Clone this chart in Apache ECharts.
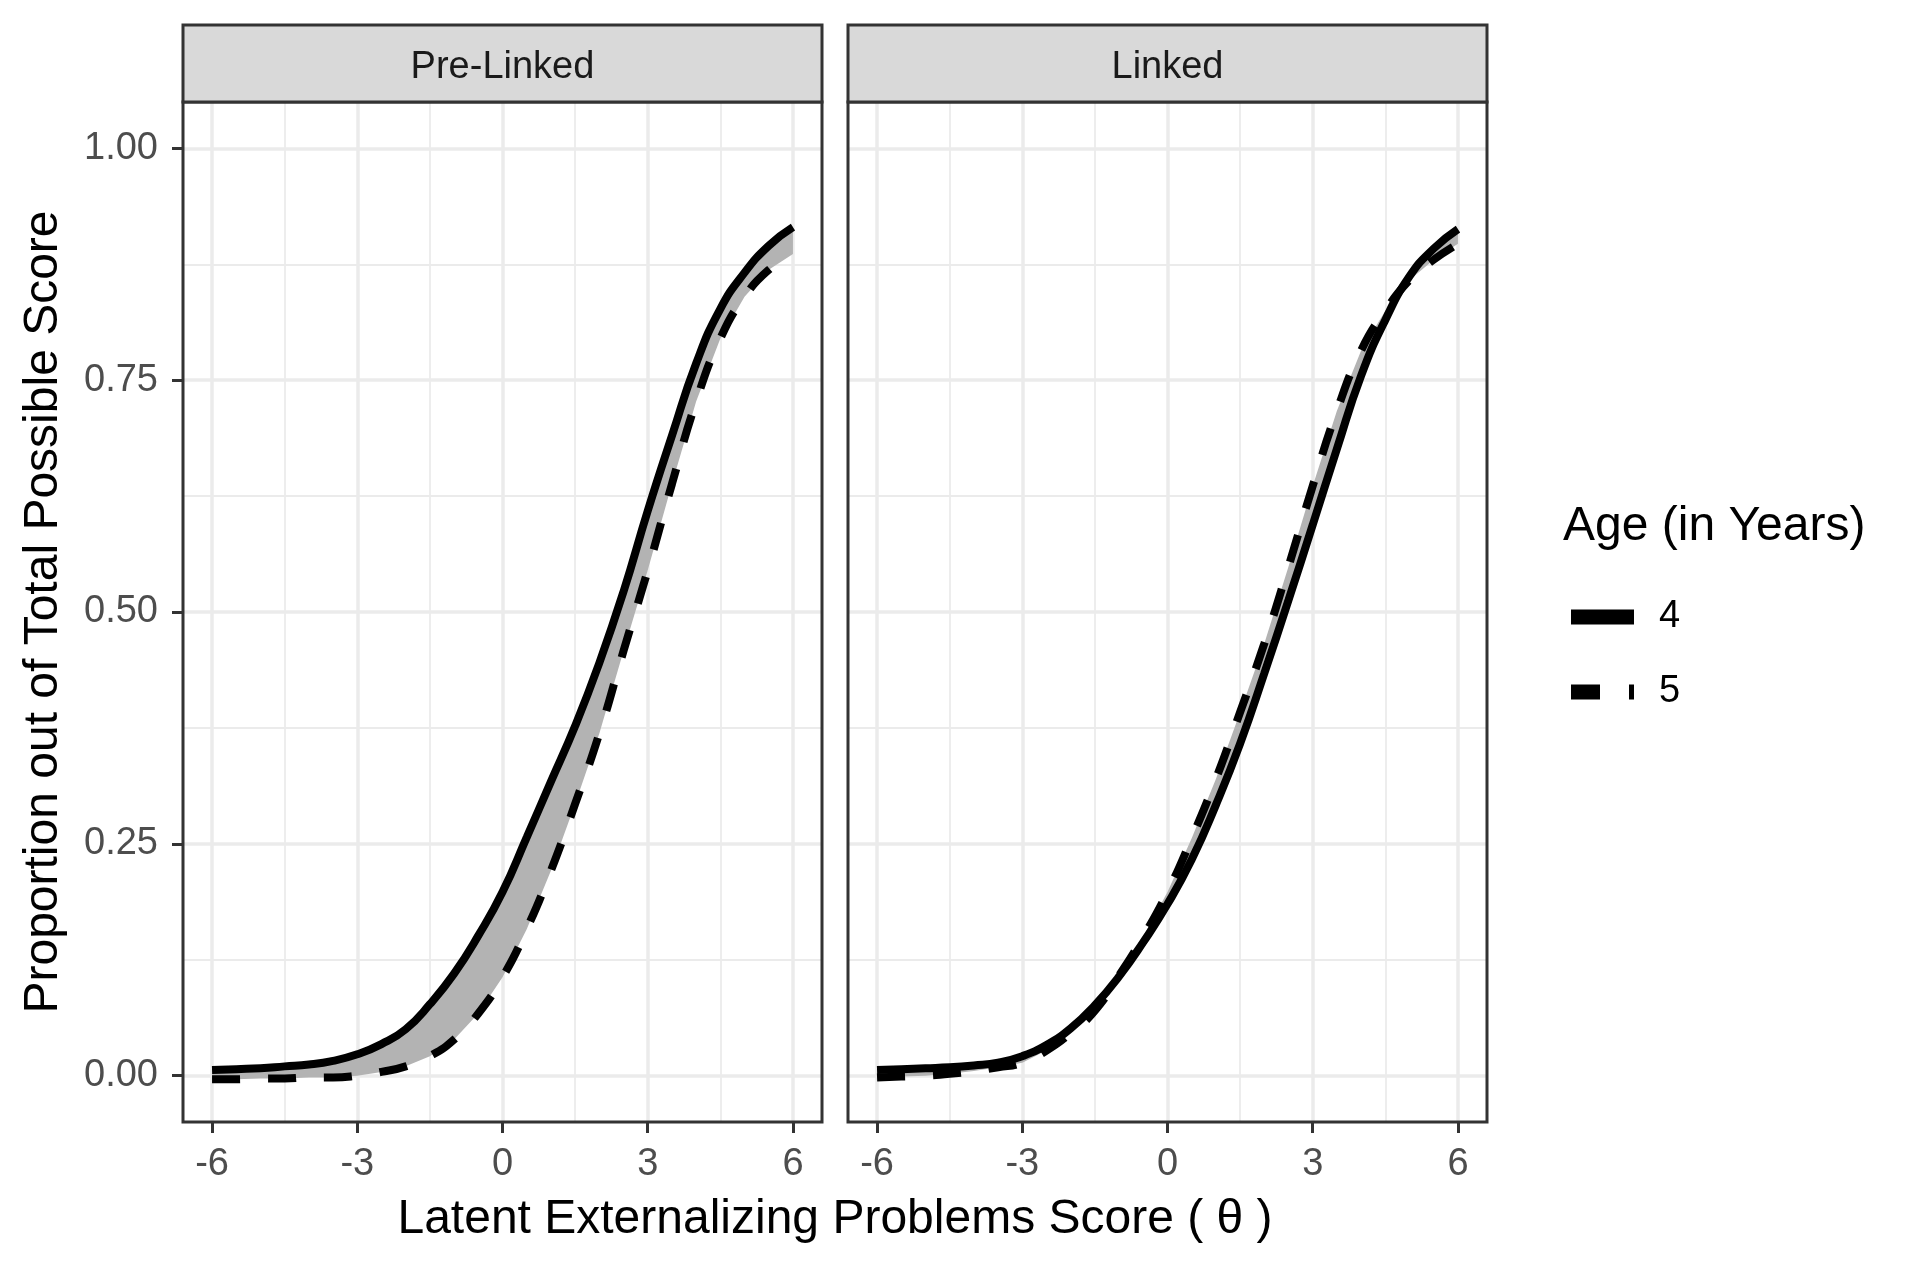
<!DOCTYPE html>
<html>
<head>
<meta charset="utf-8">
<script src="https://cdn.jsdelivr.net/npm/echarts@6/dist/echarts.min.js"></script>
<style>
html, body { margin: 0; padding: 0; background: #fff; }
#chart { width: 1920px; height: 1280px; }
</style>
</head>
<body>
<div id="chart"></div>
<script>
// latent score grid
var theta = [-6, -5.5, -5, -4.5, -4, -3.5, -3, -2.5, -2, -1.5, -1, -0.5, 0, 0.5, 1, 1.5, 2, 2.5, 3, 3.5, 4, 4.5, 5, 5.5, 6];
// Pre-Linked panel
var preAge4 = [0.006, 0.007, 0.008, 0.010, 0.012, 0.016, 0.023, 0.034, 0.050, 0.077, 0.110, 0.151, 0.198, 0.257, 0.317, 0.377, 0.445, 0.522, 0.609, 0.690, 0.768, 0.827, 0.866, 0.895, 0.915];
var preAge5 = [-0.004, -0.004, -0.003, -0.003, -0.002, -0.002, 0.000, 0.004, 0.010, 0.021, 0.039, 0.067, 0.106, 0.158, 0.221, 0.293, 0.369, 0.458, 0.545, 0.638, 0.727, 0.795, 0.840, 0.869, 0.886];
// Linked panel
var linkAge4 = [0.006, 0.007, 0.008, 0.009, 0.011, 0.014, 0.021, 0.033, 0.051, 0.076, 0.107, 0.144, 0.185, 0.233, 0.292, 0.358, 0.434, 0.513, 0.594, 0.676, 0.755, 0.815, 0.862, 0.892, 0.913];
var linkAge5 = [-0.002, -0.001, 0.000, 0.002, 0.005, 0.009, 0.014, 0.027, 0.046, 0.070, 0.108, 0.150, 0.198, 0.256, 0.320, 0.392, 0.466, 0.549, 0.636, 0.717, 0.782, 0.825, 0.858, 0.880, 0.897];

var panels = ['Pre-Linked', 'Linked'];
var ages = ['4', '5'];
var xMajor = [-6, -3, 0, 3, 6];
var xMinor = [-4.5, -1.5, 1.5, 4.5];
var yMajor = [0, 0.25, 0.5, 0.75, 1];
var yMinor = [0.125, 0.375, 0.625, 0.875];

var FONT = 'Liberation Sans, Arial, sans-serif';
var panelLeft = [183, 848];
var panelTop = 102, panelW = 639, panelH = 1020;
var SMOOTH = 0.5;

function pairs(vals) {
    return theta.map(function (t, i) { return [t, vals[i]]; });
}

var chart = echarts.init(document.getElementById('chart'));

var grids = [], xAxes = [], yAxes = [], series = [], graphics = [];
var curves = [[preAge4, preAge5], [linkAge4, linkAge5]];

panels.forEach(function (name, p) {
    grids.push({ left: panelLeft[p], top: panelTop, width: panelW, height: panelH, show: true, backgroundColor: '#fff', borderWidth: 0 });
    // major x
    xAxes.push({
        gridIndex: p, type: 'value', min: -6.6, max: 6.6,
        axisLine: { show: false, onZero: false },
        axisTick: { show: true, length: 11, lineStyle: { color: '#333333', width: 3 }, customValues: xMajor },
        axisLabel: { customValues: xMajor, fontSize: 38, color: '#4D4D4D', fontFamily: FONT, margin: 24 },
        splitLine: { show: true, lineStyle: { color: '#EBEBEB', width: 3.5 } }
    });
    // minor x
    xAxes.push({
        gridIndex: p, type: 'value', min: -6.6, max: 6.6,
        axisLine: { show: false, onZero: false },
        axisTick: { show: false, customValues: xMinor },
        axisLabel: { show: false },
        splitLine: { show: true, lineStyle: { color: '#EBEBEB', width: 1.8 } }
    });
    // major y
    yAxes.push({
        gridIndex: p, type: 'value', min: -0.05, max: 1.05, position: 'left',
        axisLine: { show: false, onZero: false },
        axisTick: { show: p === 0, length: 11, lineStyle: { color: '#333333', width: 3 }, customValues: yMajor },
        axisLabel: {
            show: p === 0, customValues: yMajor, fontSize: 38, color: '#4D4D4D', fontFamily: FONT, margin: 25,
            formatter: function (v) { return v.toFixed(2); }
        },
        splitLine: { show: true, lineStyle: { color: '#EBEBEB', width: 3.5 } }
    });
    // minor y
    yAxes.push({
        gridIndex: p, type: 'value', min: -0.05, max: 1.05, position: 'left',
        axisLine: { show: false, onZero: false },
        axisTick: { show: false, customValues: yMinor },
        axisLabel: { show: false },
        splitLine: { show: true, lineStyle: { color: '#EBEBEB', width: 1.8 } }
    });

    var a4 = curves[p][0], a5 = curves[p][1];
    var xi = p * 2, yi = p * 2;
    // grey band between the two age curves
    series.push({
        name: 'band-' + p, type: 'custom', xAxisIndex: xi, yAxisIndex: yi, silent: true, z: 2,
        data: theta.map(function (t, i) { return [t, a4[i], a5[i]]; }),
        encode: { x: 0, y: [1, 2] },
        renderItem: function (params, api) {
            if (params.dataIndex !== 0) return null;
            var pts = [], i;
            for (i = 0; i < theta.length; i++) pts.push(api.coord([theta[i], a4[i]]));
            for (i = theta.length - 1; i >= 0; i--) pts.push(api.coord([theta[i], a5[i]]));
            return { type: 'polygon', shape: { points: pts }, style: { fill: '#B3B3B3' } };
        }
    });
    series.push({
        name: ages[0], type: 'line', xAxisIndex: xi, yAxisIndex: yi,
        data: pairs(a4), symbol: 'none', smooth: SMOOTH,
        lineStyle: { color: '#000', width: 8, type: 'solid' }, itemStyle: { color: '#000' }, z: 3
    });
    series.push({
        name: ages[1], type: 'line', xAxisIndex: xi, yAxisIndex: yi,
        data: pairs(a5), symbol: 'none', smooth: SMOOTH,
        lineStyle: { color: '#000', width: 8, type: [28, 28] }, itemStyle: { color: '#000' }, z: 3
    });

    // panel border and strip
    graphics.push({
        type: 'rect', z: 100,
        shape: { x: panelLeft[p], y: panelTop, width: panelW, height: panelH },
        style: { fill: 'none', stroke: '#333333', lineWidth: 3 }
    });
    graphics.push({
        type: 'rect', z: 100,
        shape: { x: panelLeft[p], y: 25, width: panelW, height: panelTop - 25 },
        style: { fill: '#D9D9D9', stroke: '#333333', lineWidth: 3 }
    });
    graphics.push({
        type: 'text', z: 101, x: panelLeft[p] + panelW / 2, y: 68,
        style: { text: name, fontSize: 38, fontFamily: FONT, fill: '#1A1A1A', align: 'center', verticalAlign: 'middle' }
    });
});

// axis titles
graphics.push({
    type: 'text', z: 101, x: 835, y: 1220,
    style: { text: 'Latent Externalizing Problems Score ( \u03B8 )', fontSize: 48, fontFamily: FONT, fill: '#000', align: 'center', verticalAlign: 'middle' }
});
graphics.push({
    type: 'text', z: 101, x: 44, y: 612, rotation: Math.PI / 2,
    style: { text: 'Proportion out of Total Possible Score', fontSize: 48, fontFamily: FONT, fill: '#000', align: 'center', verticalAlign: 'middle' }
});
// legend title
graphics.push({
    type: 'text', z: 101, x: 1563, y: 527,
    style: { text: 'Age (in Years)', fontSize: 48, fontFamily: FONT, fill: '#000', align: 'left', verticalAlign: 'middle' }
});

// legend keys: solid bar and dashed bar
var keyIcons = {
    '4': 'path://M0,0h63v15h-63z',
    '5': 'path://M0,0h29v15h-29z M58,0h5v15h-5z'
};

var option = {
    animation: false,
    backgroundColor: '#fff',
    grid: grids,
    xAxis: xAxes,
    yAxis: yAxes,
    legend: {
        data: ages.map(function (a) { return { name: a, icon: keyIcons[a], itemStyle: { color: '#000' } }; }),
        orient: 'vertical',
        left: 1566,
        top: 592,
        itemWidth: 63,
        itemHeight: 15,
        itemGap: 35,
        selectedMode: false,
        textStyle: { fontSize: 38, color: '#000', fontFamily: FONT, lineHeight: 40, padding: [0, 0, 0, 20] }
    },
    series: series,
    graphic: graphics
};

chart.setOption(option);
</script>
</body>
</html>
